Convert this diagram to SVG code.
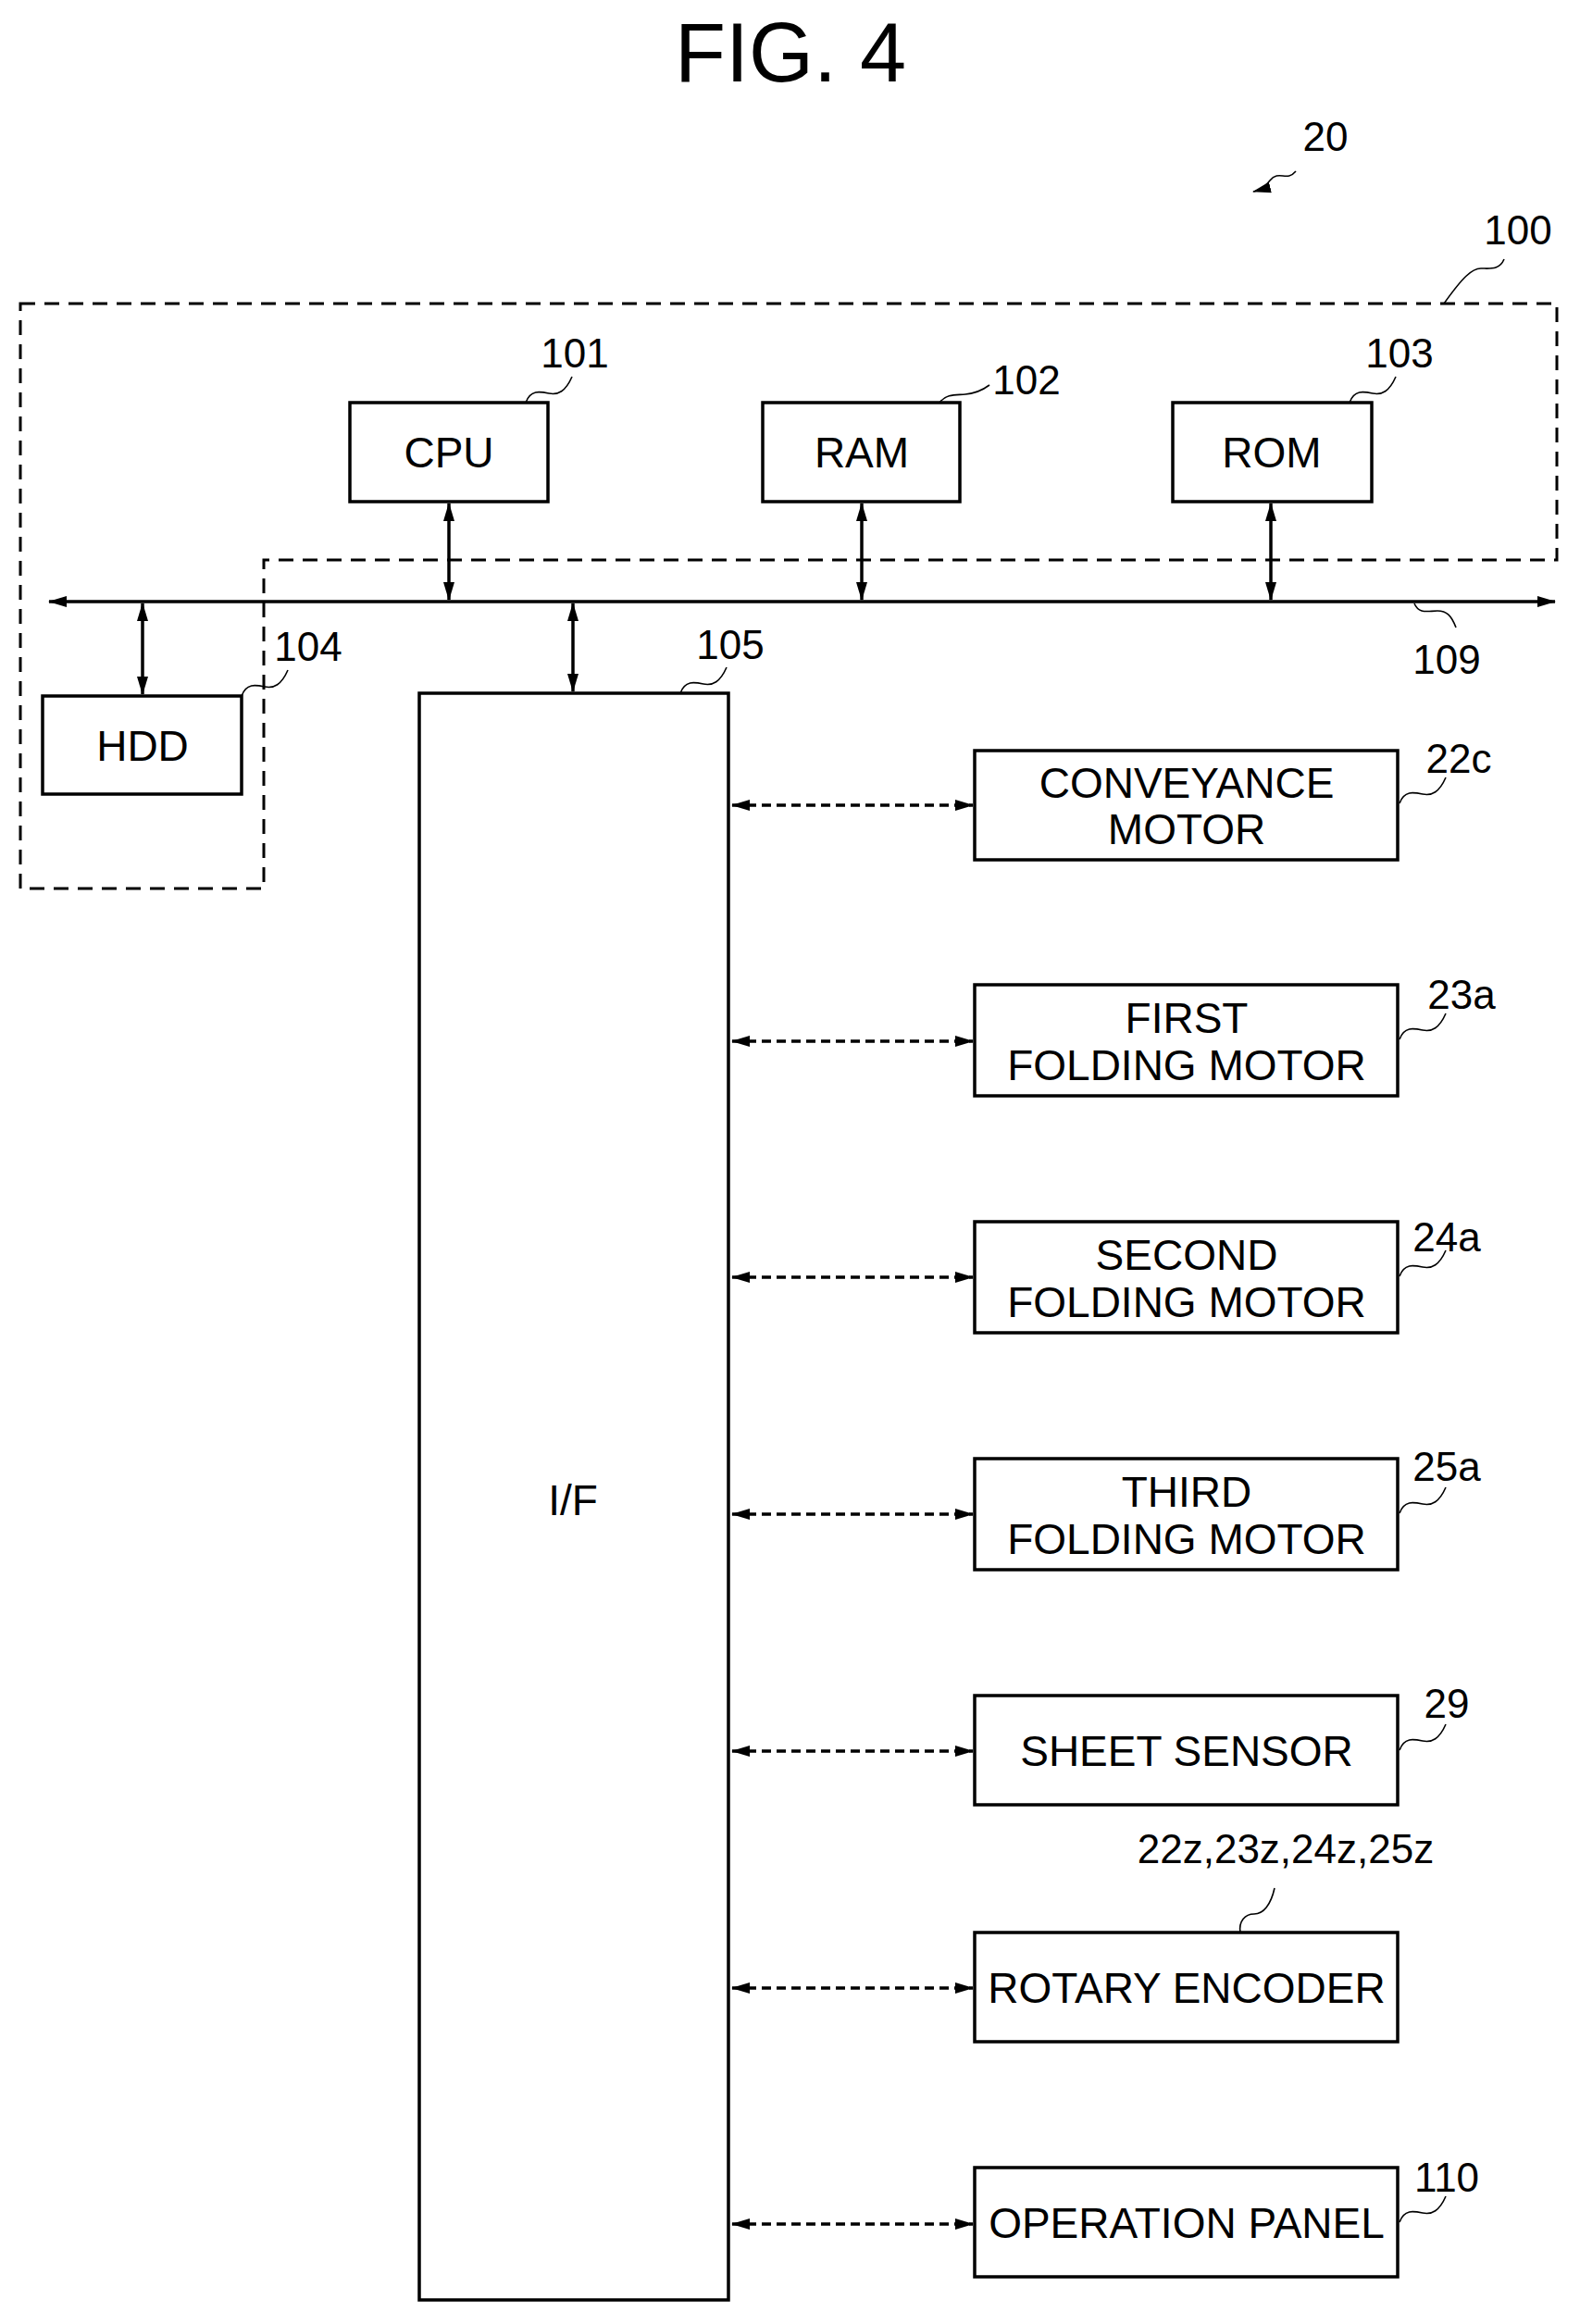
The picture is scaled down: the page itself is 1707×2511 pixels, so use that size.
<svg xmlns="http://www.w3.org/2000/svg" width="1707" height="2511" viewBox="0 0 1707 2511">
<style>
text{font-family:"Liberation Sans Narrow","Liberation Sans",Arial,sans-serif;font-size:46px;fill:#000;text-anchor:middle}
.lbl{font-size:44px}
.box{fill:#fff;stroke:#000;stroke-width:3.5}
.ld{fill:none;stroke:#000;stroke-width:1.6}
.bus{stroke:#000;stroke-width:3.5;fill:none}
.da{stroke:#000;stroke-width:3.5;fill:none;stroke-dasharray:10 6}
.enc{fill:none;stroke:#000;stroke-width:3;stroke-dasharray:16 10}
</style>
<defs>
<marker id="ah" viewBox="0 0 20 12" refX="19" refY="6" markerWidth="20" markerHeight="12" markerUnits="userSpaceOnUse" orient="auto-start-reverse">
<path d="M0,0 L20,6 L0,12 Z" fill="#000"/>
</marker>
</defs>
<text x="854" y="88" style="font-size:90px">FIG. 4</text>
<g id="ref20"><text class="lbl" x="1432" y="163">20</text><path class="ld" d="M1400,185 c-10,12 -18,-2 -28,10 s-10,10 -18,12" marker-end="url(#ah)"/></g>
<g id="enc100"><path class="enc" d="M22,328 H1682 V605 H285 V960 H22 Z"/><text class="lbl" x="1640" y="264">100</text><path class="ld" d="M1625,280 c-5,12 -15,10 -25,10 s-20,10 -40,38"/></g>
<g id="connectors">
<line class="bus" x1="53" y1="650" x2="1680" y2="650" marker-start="url(#ah)" marker-end="url(#ah)"/>
<line class="bus" x1="485" y1="544" x2="485" y2="648" marker-start="url(#ah)" marker-end="url(#ah)"/>
<line class="bus" x1="931" y1="544" x2="931" y2="648" marker-start="url(#ah)" marker-end="url(#ah)"/>
<line class="bus" x1="1373" y1="544" x2="1373" y2="648" marker-start="url(#ah)" marker-end="url(#ah)"/>
<line class="bus" x1="154" y1="652" x2="154" y2="750" marker-start="url(#ah)" marker-end="url(#ah)"/>
<line class="bus" x1="619" y1="652" x2="619" y2="747" marker-start="url(#ah)" marker-end="url(#ah)"/>
<line class="da" x1="791" y1="870" x2="1051" y2="870" marker-start="url(#ah)" marker-end="url(#ah)"/>
<line class="da" x1="791" y1="1125" x2="1051" y2="1125" marker-start="url(#ah)" marker-end="url(#ah)"/>
<line class="da" x1="791" y1="1380" x2="1051" y2="1380" marker-start="url(#ah)" marker-end="url(#ah)"/>
<line class="da" x1="791" y1="1636" x2="1051" y2="1636" marker-start="url(#ah)" marker-end="url(#ah)"/>
<line class="da" x1="791" y1="1892" x2="1051" y2="1892" marker-start="url(#ah)" marker-end="url(#ah)"/>
<line class="da" x1="791" y1="2148" x2="1051" y2="2148" marker-start="url(#ah)" marker-end="url(#ah)"/>
<line class="da" x1="791" y1="2403" x2="1051" y2="2403" marker-start="url(#ah)" marker-end="url(#ah)"/>
<path class="ld" d="M1528,652 c5,12 15,8 25,8 s15,5 20,18"/>
<text class="lbl" x="1563" y="728">109</text>
</g>
<g id="cpu"><rect class="box" x="378" y="435" width="214" height="107"/><text x="485" y="505">CPU</text><text class="lbl" x="621" y="397">101</text><path class="ld" d="M568,435 c5,-14 15,-12 25,-10 s18,-2 25,-18"/></g>
<g id="ram"><rect class="box" x="824" y="435" width="213" height="107"/><text x="931" y="505">RAM</text><text class="lbl" x="1109" y="426">102</text><path class="ld" d="M1015,435 c8,-10 18,-8 28,-9 s18,-4 26,-10"/></g>
<g id="rom"><rect class="box" x="1267" y="435" width="215" height="107"/><text x="1374" y="505">ROM</text><text class="lbl" x="1512" y="397">103</text><path class="ld" d="M1458,435 c5,-14 15,-12 25,-10 s18,-2 25,-18"/></g>
<g id="hdd"><rect class="box" x="46" y="752" width="215" height="106"/><text x="154" y="822">HDD</text><text class="lbl" x="333" y="714">104</text><path class="ld" d="M261,752 c5,-14 15,-12 25,-10 s18,-2 25,-18"/></g>
<g id="if"><rect class="box" x="453" y="749" width="334" height="1736"/><text x="619" y="1637">I/F</text><text class="lbl" x="789" y="712">105</text><path class="ld" d="M735,749 c5,-14 15,-12 25,-10 s18,-2 25,-18"/></g>
<g id="conv"><rect class="box" x="1053" y="811" width="457" height="118"/><text x="1282" y="862">CONVEYANCE</text><text x="1282" y="912">MOTOR</text><text class="lbl" x="1576" y="835">22c</text><path class="ld" d="M1512,868 c5,-14 15,-12 25,-10 s18,-2 25,-18"/></g>
<g id="fold1"><rect class="box" x="1053" y="1064" width="457" height="120"/><text x="1282" y="1116">FIRST</text><text x="1282" y="1167">FOLDING MOTOR</text><text class="lbl" x="1579" y="1090">23a</text><path class="ld" d="M1512,1123 c5,-14 15,-12 25,-10 s18,-2 25,-18"/></g>
<g id="fold2"><rect class="box" x="1053" y="1320" width="457" height="120"/><text x="1282" y="1372">SECOND</text><text x="1282" y="1423">FOLDING MOTOR</text><text class="lbl" x="1563" y="1352">24a</text><path class="ld" d="M1512,1379 c5,-14 15,-12 25,-10 s18,-2 25,-18"/></g>
<g id="fold3"><rect class="box" x="1053" y="1576" width="457" height="120"/><text x="1282" y="1628">THIRD</text><text x="1282" y="1679">FOLDING MOTOR</text><text class="lbl" x="1563" y="1600">25a</text><path class="ld" d="M1512,1635 c5,-14 15,-12 25,-10 s18,-2 25,-18"/></g>
<g id="sensor"><rect class="box" x="1053" y="1832" width="457" height="118"/><text x="1282" y="1908">SHEET SENSOR</text><text class="lbl" x="1563" y="1856">29</text><path class="ld" d="M1512,1891 c5,-14 15,-12 25,-10 s18,-2 25,-18"/></g>
<g id="encoder"><rect class="box" x="1053" y="2088" width="457" height="118"/><text x="1282" y="2164">ROTARY ENCODER</text><text class="lbl" x="1389" y="2013">22z,23z,24z,25z</text><path class="ld" d="M1340,2088 c-2,-12 5,-20 15,-20 s18,-10 22,-28"/></g>
<g id="panel"><rect class="box" x="1053" y="2342" width="457" height="118"/><text x="1282" y="2418">OPERATION PANEL</text><text class="lbl" x="1563" y="2368">110</text><path class="ld" d="M1512,2401 c5,-14 15,-12 25,-10 s18,-2 25,-18"/></g>
</svg>
